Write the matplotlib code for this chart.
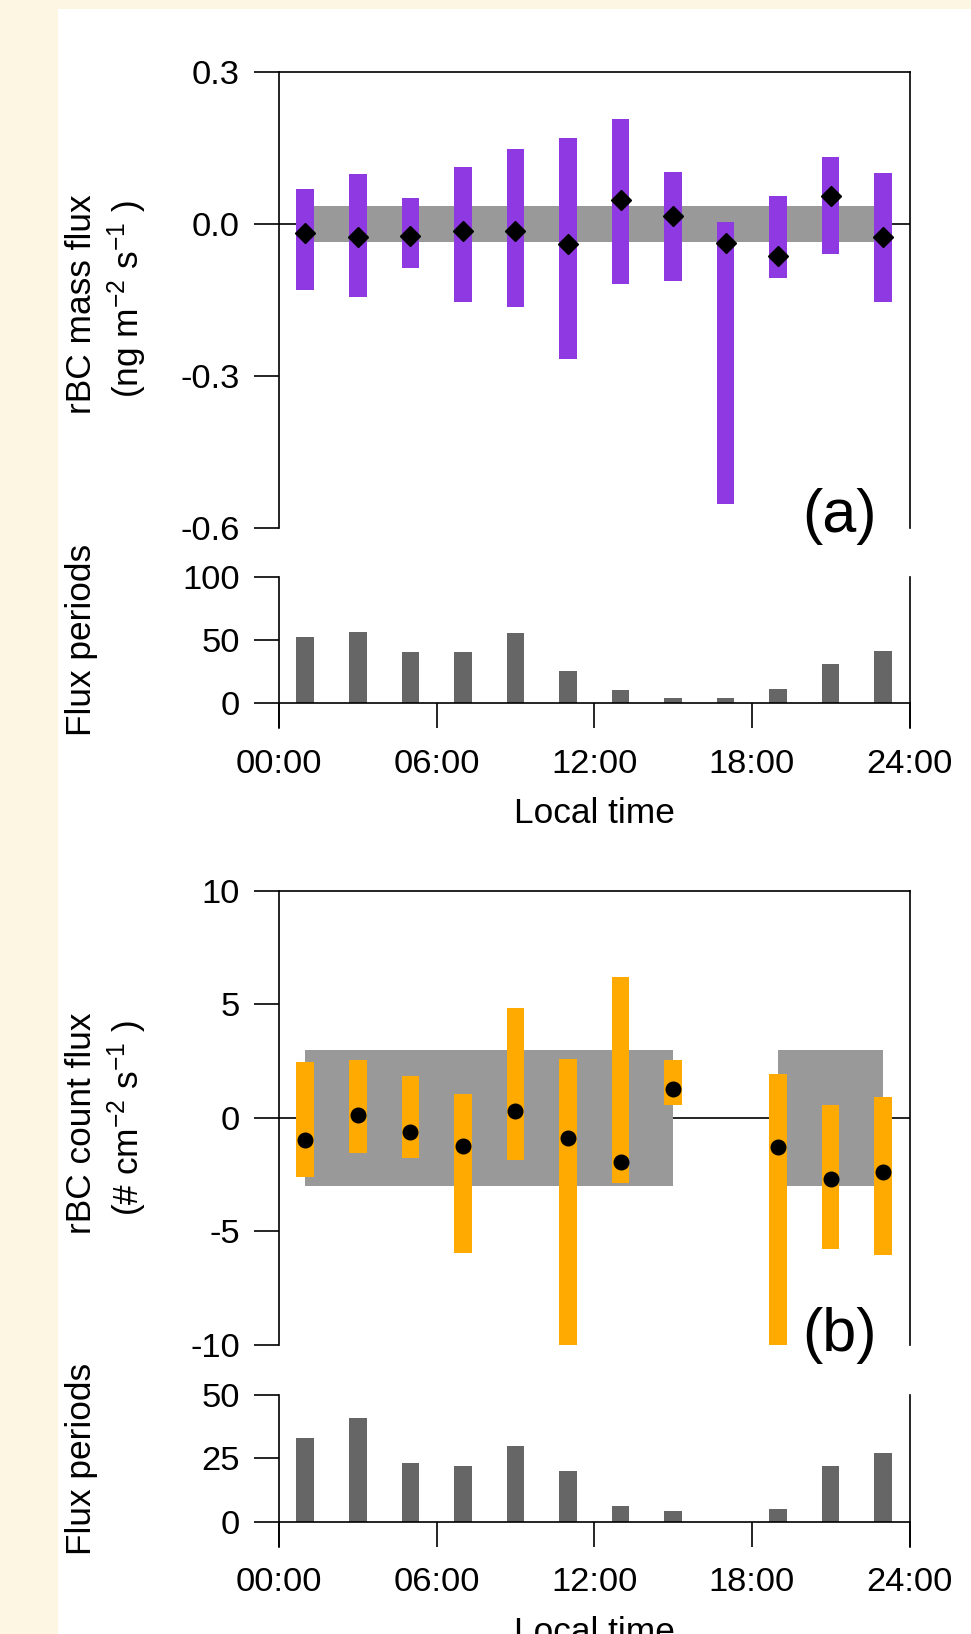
import numpy as np
import matplotlib.pyplot as plt
from matplotlib.patches import Rectangle

plt.rcParams['font.family'] = ['Liberation Sans', 'DejaVu Sans']
plt.rcParams['mathtext.fontset'] = 'custom'
plt.rcParams['mathtext.rm'] = 'Liberation Sans'
plt.rcParams['mathtext.default'] = 'regular'
plt.rcParams['axes.unicode_minus'] = False

# bin centres (local hour)
hours = [1, 3, 5, 7, 9, 11, 13, 15, 17, 19, 21, 23]
time_labels = ['00:00', '06:00', '12:00', '18:00', '24:00']

# (a) rBC mass flux, ng m-2 s-1
mass_hi = [0.069, 0.098, 0.050, 0.112, 0.147, 0.170, 0.207, 0.102, 0.004, 0.055, 0.131, 0.100]
mass_lo = [-0.131, -0.145, -0.087, -0.154, -0.164, -0.267, -0.118, -0.112, -0.553, -0.107, -0.059, -0.155]
mass_mid = [-0.019, -0.027, -0.025, -0.014, -0.015, -0.040, 0.047, 0.016, -0.038, -0.063, 0.055, -0.027]
mass_n = [52, 56, 40, 40, 55, 25, 10, 4, 4, 11, 31, 41]
mass_band = 0.035

# (b) rBC count flux, # cm-2 s-1  (no flux periods at 17:00)
nan = np.nan
count_hi = [2.44, 2.54, 1.82, 1.06, 4.83, 2.57, 6.21, 2.54, nan, 1.92, 0.56, 0.91]
count_lo = [-2.60, -1.56, -1.76, -5.96, -1.85, -10.0, -2.88, 0.56, nan, -10.0, -5.80, -6.06]
count_mid = [-1.00, 0.12, -0.63, -1.25, 0.28, -0.88, -1.95, 1.27, nan, -1.28, -2.72, -2.39]
count_n = [33, 41, 23, 22, 30, 20, 6, 4, 0, 5, 22, 27]
count_band = 3.0

W, H = 971.0, 1634.0
LW = 1.2
FS = 24.8     # tick labels
LFS = 25.4    # axis titles
BARW = 0.67


def box(top, bottom):
    # pixel rows -> figure rect
    return [279 / W, 1 - bottom / H, 630.5 / W, (bottom - top) / H]


def FluxPanel(ax, hi, lo, mid, n, band, color, marker, ms, ylim, ticks, ticklabels):
    x = np.array(hours, float)
    hi = np.array(hi); lo = np.array(lo); mid = np.array(mid)
    ok = np.array(n) > 0
    ax.axhline(0, color='k', lw=LW, zorder=0.5)
    ax.fill_between(x, -band, band, where=ok, color='#999999', lw=0, zorder=1)
    ax.bar(x[ok], hi[ok] - lo[ok], bottom=lo[ok], width=BARW, color=color, lw=0, zorder=2)
    ax.plot(x[ok], mid[ok], marker, color='k', ms=ms, ls='none', zorder=3)
    ax.set_xlim(0, 24)
    ax.set_ylim(*ylim)
    ax.set_yticks(ticks)
    ax.set_yticklabels(ticklabels)
    ax.set_xticks([])
    ax.spines['bottom'].set_visible(False)
    for s in ['left', 'right', 'top']:
        ax.spines[s].set_linewidth(LW)
    ax.tick_params(axis='y', direction='out', length=18, width=LW, pad=10, labelsize=FS)


def CountPanel(ax, n, ylim, ticks):
    ax.bar(hours, n, width=BARW, color='#666666', lw=0, zorder=2)
    ax.set_xlim(0, 24)
    ax.set_ylim(*ylim)
    ax.set_yticks(ticks)
    ax.set_xticks([0, 6, 12, 18, 24])
    ax.set_xticklabels(time_labels)
    ax.spines['top'].set_visible(False)
    ax.spines['bottom'].set_position(('data', 0))
    for s in ['left', 'right', 'bottom']:
        ax.spines[s].set_linewidth(LW)
    ax.tick_params(axis='y', direction='out', length=18, width=LW, pad=10, labelsize=FS)
    ax.tick_params(axis='x', direction='out', length=18, width=LW, pad=15, labelsize=FS)


fig = plt.figure(figsize=(W / 100, H / 100), dpi=100)
fig.patch.set_facecolor('#FDF6E3')
fig.patches.append(Rectangle((58 / W, 0), 1, 1 - 9 / H, transform=fig.transFigure,
                             facecolor='white', edgecolor='none', zorder=-10))

axa = fig.add_axes(box(71.7, 527.9))
FluxPanel(axa, mass_hi, mass_lo, mass_mid, mass_n, mass_band, '#8F39E3', 'D', 9.7,
          (-0.6, 0.3), [0.3, 0.0, -0.3, -0.6], ['0.3', '0.0', '-0.3', '-0.6'])
axan = fig.add_axes(box(576.7, 728.3))
CountPanel(axan, mass_n, (-20.3, 100), [0, 50, 100])

axb = fig.add_axes(box(890.7, 1344.7))
FluxPanel(axb, count_hi, count_lo, count_mid, count_n, count_band, '#FFAA00', 'o', 10.5,
          (-10, 10), [10, 5, 0, -5, -10], ['10', '5', '0', '-5', '-10'])
axbn = fig.add_axes(box(1395, 1546.7))
CountPanel(axbn, count_n, (-9.9, 50), [0, 25, 50])

# axis titles, placed in pixel rows so both halves line up
for dy, l1, l2 in [(0, 'rBC mass flux', r'(ng m$^{-2}$ s$^{-1}$ )'),
                   (819, 'rBC count flux', r'(# cm$^{-2}$ s$^{-1}$ )')]:
    fig.text(81.5 / W, 1 - (304 + dy) / H, l1, rotation=90, ha='center', va='center', fontsize=LFS)
    fig.text(127 / W, 1 - (299 + dy) / H, l2, rotation=90, ha='center', va='center', fontsize=LFS)
    fig.text(81.5 / W, 1 - (640 + dy) / H, 'Flux periods', rotation=90, ha='center', va='center', fontsize=LFS)
    fig.text(594 / W, 1 - (823 + dy) / H, 'Local time', ha='center', va='baseline', fontsize=LFS)

fig.text(839 / W, 1 - 532 / H, '(a)', ha='center', va='baseline', fontsize=44)
fig.text(839 / W, 1 - 1351 / H, '(b)', ha='center', va='baseline', fontsize=44)

fig.savefig('out.png', dpi=100)
